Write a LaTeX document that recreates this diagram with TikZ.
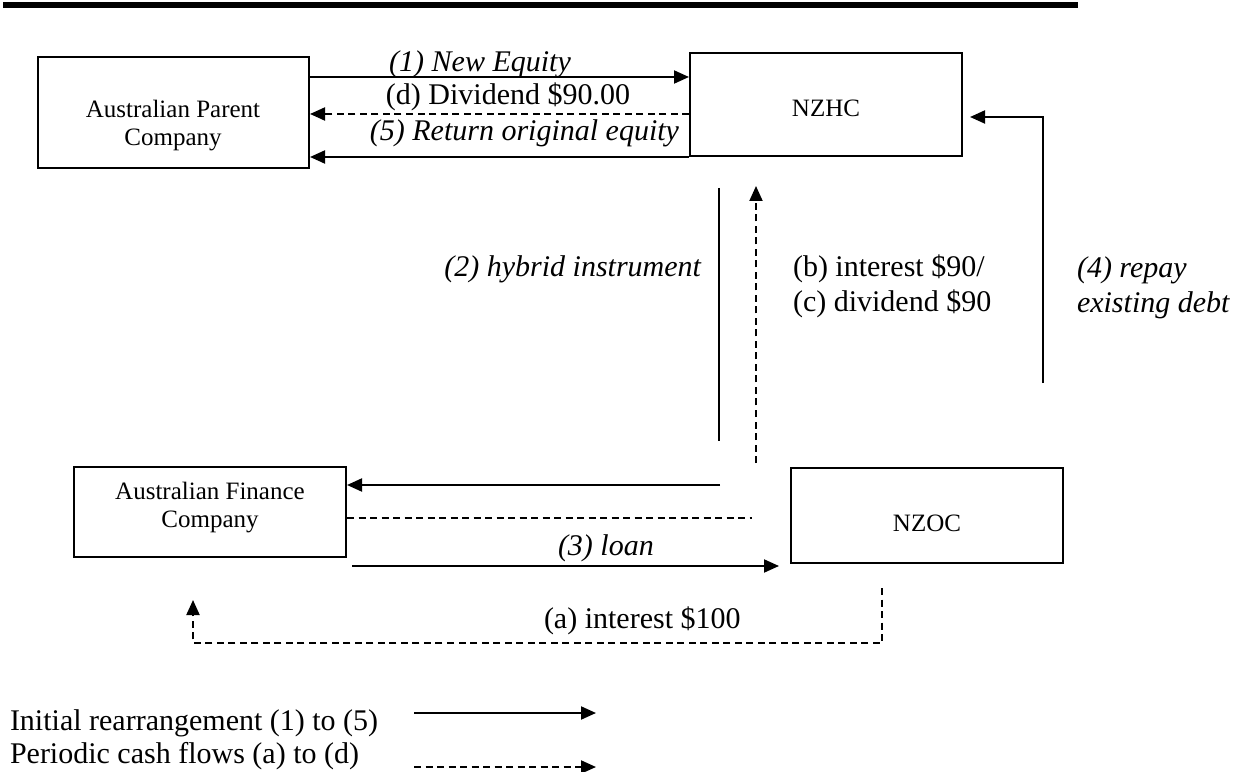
\documentclass[tikz,border=0pt]{standalone}
\usepackage{fontspec}
\setmainfont{Liberation Serif}
\usetikzlibrary{arrows.meta}

\begin{document}
\begin{tikzpicture}[x=0.4pt, y=-0.4pt, line width=0.8pt,
    every node/.style={font=\fontsize{12}{14}\selectfont, inner sep=0pt},
    >={Triangle[length=6pt,width=5.2pt]},
    firm/.style={draw, minimum width=108.8pt},
    firmtext/.style={font=\fontsize{10}{11.2}\selectfont, align=center},
    flowit/.style={font=\fontsize{12}{14}\selectfont\itshape},
    cash/.style={dash pattern=on 2.8pt off 1.8pt}]
    \useasboundingbox (0,0) rectangle (1246,772);
    \fill (3,2) rectangle (1078,8);

    \node[firm, minimum width=108.4pt, minimum height=44.4pt] (apc) at (173.5,112.5) {};
    \node[firmtext] (apctext) at (173,126) {Australian Parent\\Company};
    \node[firm, minimum height=41.2pt] (nzhc) at (826,104.5) {};
    \node[firmtext] (nzhctext) at (826,108) {NZHC};
    \node[firm, minimum height=36pt] (afc) at (210,512) {};
    \node[firmtext] (afctext) at (210,507.5) {Australian Finance\\Company};
    \node[firm, minimum height=38pt] (nzoc) at (927,515.5) {};
    \node[firmtext] (nzoctext) at (927,523) {NZOC};

    \draw[->] (apc.east |- 0,77) -- (nzhc.west |- 0,77);
    \draw[cash,->] (nzhc.west |- 0,114) -- (apc.east |- 0,114);
    \draw[->] (nzhc.south west) -- (apc.east |- nzhc.south west);
    \node[flowit, anchor=base] (neweq) at (480,72) {(1) New Equity};
    \node[anchor=base] (divd) at (508,105) {(d) Dividend \$90.00};
    \node[flowit, anchor=base east] (reteq) at (680,141) {(5) Return original equity};

    \coordinate (hybtop) at (719,188);
    \coordinate (hybbot) at (719,441);
    \coordinate (hybend) at (720,485);
    \draw (hybtop) -- (hybbot);
    \draw[->] (hybend) -- (afc.east |- hybend);
    \node[flowit, anchor=base east] (hybrid) at (702,277) {(2) hybrid instrument};

    \coordinate (intbot) at (756,463);
    \coordinate (divend) at (752,518);
    \draw[cash,->, shorten >=11.6pt] (intbot) -- (intbot |- nzhc.south);
    \draw[cash] (afc.east |- divend) -- (divend);
    \node[anchor=base west] (intb) at (792,277) {(b) interest \$90/};
    \node[anchor=base west] (divc) at (792,312) {(c) dividend \$90};

    \coordinate (repaystart) at (1043,383);
    \draw[->, shorten >=2.8pt] (repaystart) |- (nzhc.east |- 0,117);
    \node[flowit, anchor=base west] (repay) at (1076,278) {(4) repay};
    \node[flowit, anchor=base west] (debt) at (1076,313) {existing debt};

    \draw[->, shorten <=2pt, shorten >=4.4pt] (afc.east |- 0,566) -- (nzoc.west |- 0,566);
    \node[flowit, anchor=base west] (loan) at (557,555) {(3) loan};

    \coordinate (intstart) at (882,588);
    \coordinate (intend) at (193,600);
    \draw[cash,->] (intstart) |- (intend |- 0,643) -- (intend);
    \node[anchor=base west] (inta) at (543,628) {(a) interest \$100};

    \node[anchor=base west] (initial) at (9,730) {Initial rearrangement (1) to (5)};
    \node[anchor=base west] (periodic) at (9,763) {Periodic cash flows (a) to (d)};
    \coordinate (legsolid) at (414,713);
    \coordinate (legcash) at (414,767);
    \draw[->] (legsolid) -- ++(182,0);
    \draw[cash,->] (legcash) -- ++(182,0);
\end{tikzpicture}
\end{document}
